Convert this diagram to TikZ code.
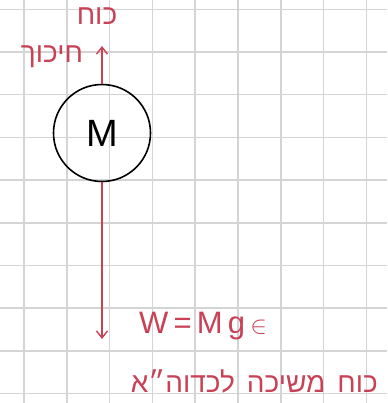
\documentclass[tikz,border=0pt]{standalone}
\usepackage{fontspec}
\newfontfamily\hebfont[Script=Hebrew]{Liberation Sans}
\TeXXeTstate=1
\usetikzlibrary{arrows.meta}
\definecolor{penred}{RGB}{200,65,85}
\definecolor{gridgray}{RGB}{212,212,212}

\begin{document}
\begin{tikzpicture}[x=1pt, y=-1pt,
    force/.style={-{Straight Barb[length=7pt,width=11pt]}, penred, line width=1.4pt},
    heb/.style={text=penred, inner sep=0pt, font=\hebfont\fontsize{28}{30}\selectfont},
  ]
  \useasboundingbox (0,0) rectangle (387,403);

  % squared paper
  \foreach \i in {0,...,8}
    \draw[gridgray, line width=1.5pt] (24+42.8*\i,0) -- (24+42.8*\i,403);
  \foreach \j in {0,...,9}
    \draw[gridgray, line width=1.5pt] (0,9.3+42.7*\j) -- (387,9.3+42.7*\j);

  % the mass
  \node[draw, circle, line width=1.6pt, minimum size=97pt, inner sep=0pt,
        font=\hebfont\fontsize{38}{40}\selectfont] (mass) at (102,133) {M};

  % forces
  \coordinate (fric) at (102,46);
  \coordinate (weight) at (102,339);
  \draw[force] (mass.north) -- (fric);
  \draw[force] (mass.south) -- (weight);

  % labels
  \node[heb] (fric top) at (97,16) {\beginR כוח\endR};
  \node[heb] (fric bot) at (52,57) {\beginR חיכוך\endR};
  \node[heb, anchor=west, font=\hebfont\fontsize{31}{33}\selectfont]
    (wlabel) at (139,326) {W\,=\,M\,g\,$\in$};
  \node[heb, anchor=east] (grav) at (378,381)
    {\beginR כוח\hspace{12pt}משיכה\hspace{12pt}לכדוה״א\endR};
\end{tikzpicture}
\end{document}
